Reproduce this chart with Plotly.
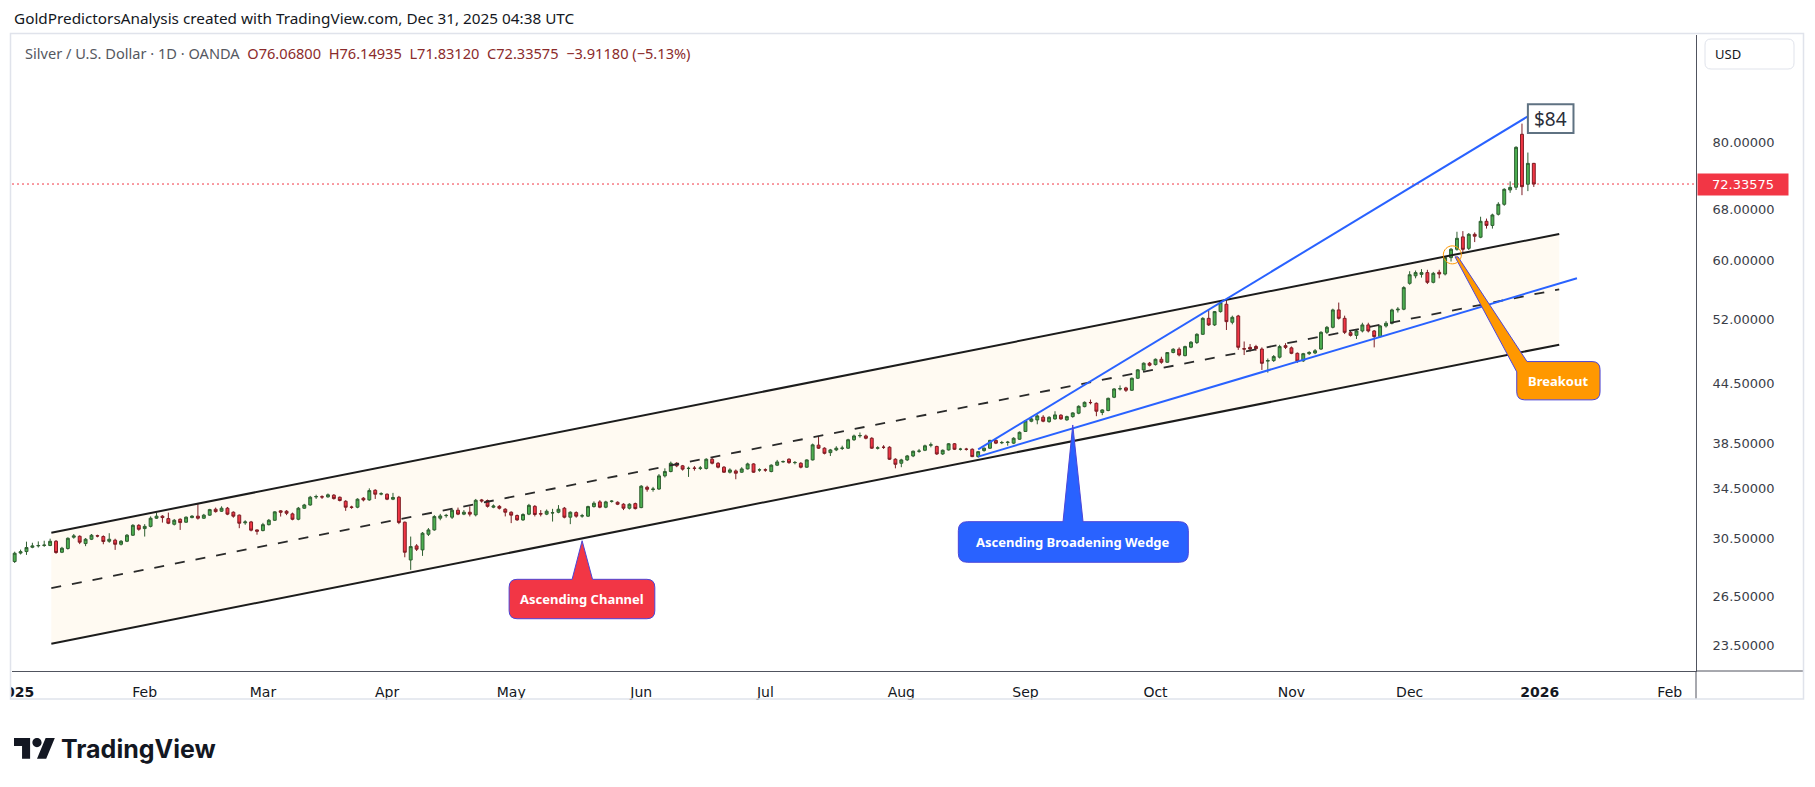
import math
import pandas as pd
import plotly.graph_objects as go

# ---------------- data ----------------
FIRST_DAY = "2025-01-02"
LAST_DAY = "2025-12-31"
HOLIDAYS = ["2025-04-18", "2025-12-25"]

OPEN = [
    28.85, 29.45, 29.56, 29.87, 29.97, 30.00, 30.00, 30.31, 29.51, 29.78,
    30.61, 30.68, 30.14, 30.46, 30.72, 30.66, 30.31, 30.39, 30.09, 30.31,
    30.76, 31.51, 31.26, 31.43, 32.06, 32.22, 32.03, 31.59, 31.98, 31.75,
    32.11, 32.22, 32.06, 32.30, 32.77, 32.61, 32.85, 32.53, 32.30, 31.70,
    31.77, 31.16, 31.11, 31.56, 31.90, 32.64, 32.61, 32.40, 31.98, 32.85,
    33.11, 33.76, 33.78, 33.77, 33.91, 33.74, 33.41, 32.95, 32.93, 33.66,
    33.52, 34.32, 34.00, 33.99, 33.58, 33.74, 31.75, 28.96, 29.97, 29.68,
    30.83, 31.16, 32.06, 32.26, 32.14, 32.69, 32.38, 32.53, 32.32, 33.52,
    33.47, 32.93, 33.00, 32.77, 32.53, 32.27, 31.93, 32.38, 33.00, 32.42,
    32.38, 32.47, 32.53, 32.85, 32.14, 32.50, 32.23, 32.22, 32.98, 33.36,
    32.93, 33.40, 33.33, 33.17, 32.85, 33.22, 32.90, 34.57, 34.38, 34.42,
    35.54, 35.92, 36.65, 36.42, 36.18, 36.22, 36.20, 36.19, 37.01, 36.65,
    36.30, 35.86, 35.97, 35.86, 36.15, 36.59, 36.05, 36.07, 35.92, 36.48,
    36.78, 37.01, 36.70, 36.65, 36.30, 36.95, 38.30, 38.02, 37.61, 37.86,
    38.00, 38.02, 38.81, 39.18, 39.17, 38.95, 38.02, 38.11, 38.11, 37.01,
    36.65, 36.95, 37.31, 37.74, 37.83, 38.30, 38.18, 37.49, 37.86, 38.43,
    37.92, 37.93, 37.92, 37.25, 37.80, 38.02, 38.75, 38.52, 38.55, 38.49,
    38.86, 39.60, 40.60, 40.73, 41.00, 40.56, 40.83, 41.20, 40.73, 41.06,
    41.40, 42.07, 42.50, 42.41, 41.47, 41.67, 43.04, 43.92, 44.03, 43.78,
    45.08, 46.00, 46.76, 46.60, 47.21, 46.87, 48.00, 48.38, 47.63, 48.62,
    49.17, 50.17, 52.16, 51.33, 53.02, 53.98, 51.66, 52.46, 48.45, 48.60,
    48.70, 48.40, 47.00, 47.06, 47.45, 48.80, 48.54, 47.90, 47.03, 47.86,
    47.94, 48.40, 50.41, 51.03, 53.24, 52.16, 50.37, 50.04, 50.58, 51.33,
    50.58, 49.89, 51.20, 51.54, 53.24, 53.33, 56.80, 57.85, 58.05, 58.30,
    56.94, 58.35, 58.10, 60.47, 61.71, 63.60, 61.85, 64.00, 63.55, 66.06,
    65.40, 67.20, 68.85, 71.30, 71.77, 81.65, 72.30, 76.068,
]
HIGH = [
    29.55, 29.70, 30.28, 30.20, 30.30, 30.35, 30.50, 30.40, 29.90, 30.60,
    30.85, 30.75, 30.55, 30.85, 30.80, 30.75, 30.91, 30.50, 30.40, 30.85,
    31.60, 31.60, 31.60, 32.20, 32.50, 32.30, 32.50, 32.00, 32.05, 32.20,
    32.30, 33.25, 32.40, 32.80, 32.90, 33.00, 32.95, 32.60, 32.35, 31.90,
    31.85, 31.20, 31.70, 32.00, 32.60, 32.70, 32.70, 32.50, 32.95, 33.20,
    33.85, 33.95, 33.90, 34.05, 34.00, 33.80, 33.50, 33.05, 33.65, 33.75,
    34.48, 34.40, 34.15, 34.05, 34.10, 33.85, 31.80, 30.66, 30.10, 31.00,
    31.30, 32.30, 32.40, 32.40, 32.80, 32.90, 32.70, 33.00, 33.60, 33.60,
    33.55, 33.15, 33.10, 32.85, 32.60, 32.35, 32.45, 33.20, 33.10, 32.70,
    32.75, 32.80, 33.10, 32.95, 32.60, 32.60, 32.40, 33.05, 33.40, 33.50,
    33.45, 33.50, 33.40, 33.25, 33.25, 33.30, 34.75, 34.70, 34.60, 35.70,
    36.20, 36.80, 36.75, 36.50, 36.35, 36.40, 36.40, 37.10, 37.20, 36.75,
    36.40, 36.20, 36.10, 36.30, 36.70, 36.65, 36.20, 36.20, 36.55, 36.95,
    36.90, 37.10, 36.85, 36.75, 37.00, 38.45, 39.10, 38.10, 37.95, 38.20,
    38.25, 38.90, 39.30, 39.50, 39.30, 39.05, 38.20, 38.30, 38.20, 37.10,
    37.05, 37.40, 37.80, 37.95, 38.35, 38.55, 38.25, 37.90, 38.50, 38.50,
    38.05, 38.05, 38.00, 37.75, 38.10, 38.80, 38.85, 38.70, 38.70, 39.05,
    39.60, 40.70, 40.95, 41.30, 41.20, 41.10, 41.60, 41.30, 41.15, 41.50,
    42.20, 42.60, 42.80, 42.50, 41.80, 43.00, 44.00, 44.30, 44.15, 45.15,
    46.10, 46.85, 46.90, 47.30, 47.50, 48.05, 48.50, 48.60, 48.80, 49.35,
    50.30, 52.30, 53.30, 53.10, 54.30, 54.50, 52.50, 52.60, 49.30, 49.00,
    48.90, 48.60, 47.30, 47.70, 48.90, 49.10, 48.70, 48.00, 47.95, 48.15,
    48.40, 50.55, 51.20, 53.40, 54.20, 52.50, 50.60, 50.80, 51.60, 51.60,
    50.70, 51.30, 51.80, 53.40, 53.60, 56.40, 58.50, 58.60, 58.80, 58.70,
    58.40, 58.70, 60.60, 61.90, 64.40, 64.50, 64.20, 64.30, 66.80, 66.50,
    67.30, 69.20, 71.60, 72.80, 79.30, 83.80, 78.10, 76.14935,
]
LOW = [
    28.75, 29.35, 29.32, 29.80, 29.85, 29.90, 29.95, 29.40, 29.45, 29.70,
    30.50, 30.10, 29.95, 30.40, 30.60, 30.09, 30.20, 29.68, 30.00, 30.25,
    30.70, 31.10, 30.66, 31.35, 32.00, 31.72, 31.60, 31.50, 31.16, 31.70,
    32.05, 31.95, 32.00, 32.25, 32.50, 32.55, 32.30, 32.10, 31.29, 31.55,
    31.05, 30.80, 31.05, 31.50, 31.85, 32.19, 32.30, 31.90, 31.90, 32.80,
    33.05, 33.60, 33.60, 33.70, 33.55, 33.40, 32.64, 32.80, 32.85, 33.40,
    33.45, 33.60, 33.90, 33.50, 33.50, 31.60, 29.15, 28.27, 29.60, 29.25,
    30.70, 31.10, 31.90, 32.10, 32.00, 32.30, 32.30, 32.20, 32.20, 33.30,
    32.90, 32.85, 32.75, 32.20, 31.68, 31.85, 31.85, 32.30, 32.20, 32.20,
    32.30, 31.80, 32.45, 32.05, 31.60, 32.10, 32.10, 32.15, 32.90, 32.85,
    32.85, 33.30, 33.10, 32.70, 32.75, 32.75, 32.85, 34.20, 34.20, 34.35,
    35.40, 35.85, 36.30, 36.00, 35.45, 36.00, 36.05, 36.10, 36.55, 36.20,
    35.80, 35.75, 35.25, 35.80, 36.10, 35.80, 35.90, 35.90, 35.85, 36.40,
    36.70, 36.60, 36.55, 36.20, 36.25, 36.90, 37.95, 37.45, 37.30, 37.75,
    37.85, 37.95, 38.70, 39.00, 38.85, 37.95, 37.90, 37.95, 36.95, 36.20,
    36.30, 36.85, 37.20, 37.60, 37.75, 38.10, 37.40, 37.40, 37.80, 37.85,
    37.80, 37.80, 37.20, 37.15, 37.70, 37.95, 38.40, 38.40, 38.25, 38.40,
    38.80, 39.55, 40.50, 40.30, 40.50, 40.45, 40.75, 40.75, 40.65, 40.95,
    41.30, 42.00, 42.30, 41.10, 41.20, 41.60, 42.95, 43.75, 43.60, 43.70,
    45.00, 45.90, 46.40, 46.50, 46.70, 46.80, 47.90, 47.55, 47.55, 48.50,
    49.00, 50.10, 51.20, 51.20, 52.90, 50.70, 51.40, 48.30, 47.70, 48.10,
    48.20, 46.00, 45.70, 46.90, 47.30, 48.40, 47.80, 46.80, 46.90, 47.70,
    47.80, 48.30, 50.20, 50.90, 52.00, 50.20, 49.90, 49.60, 50.40, 50.40,
    48.60, 49.80, 51.00, 51.40, 52.90, 53.20, 56.60, 57.50, 57.60, 56.70,
    56.80, 57.50, 57.90, 59.90, 61.50, 61.30, 61.60, 62.80, 63.40, 64.90,
    64.90, 67.00, 68.60, 70.80, 71.30, 70.40, 71.10, 71.83120,
]
CLOSE = [
    29.44, 29.55, 29.85, 29.97, 30.00, 30.03, 30.31, 29.49, 29.80, 30.53,
    30.71, 30.24, 30.46, 30.76, 30.70, 30.29, 30.46, 30.09, 30.31, 30.76,
    31.51, 31.21, 31.43, 32.06, 32.22, 32.11, 31.67, 31.90, 31.72, 32.14,
    32.22, 32.06, 32.30, 32.74, 32.58, 32.85, 32.38, 32.22, 31.67, 31.77,
    31.14, 31.06, 31.56, 31.90, 32.56, 32.53, 32.45, 31.98, 32.85, 33.11,
    33.74, 33.80, 33.76, 33.94, 33.63, 33.47, 32.93, 32.92, 33.58, 33.52,
    34.29, 33.99, 34.03, 33.58, 33.72, 31.73, 29.51, 29.92, 29.73, 30.91,
    31.16, 32.19, 32.24, 32.28, 32.69, 32.38, 32.53, 32.38, 33.49, 33.44,
    33.00, 33.03, 32.85, 32.53, 32.30, 31.93, 32.35, 33.08, 32.35, 32.39,
    32.61, 32.49, 32.77, 32.14, 32.53, 32.22, 32.25, 32.98, 33.25, 32.93,
    33.36, 33.42, 33.17, 32.85, 33.17, 32.82, 34.66, 34.40, 34.42, 35.54,
    35.92, 36.65, 36.42, 36.13, 36.20, 36.20, 36.23, 37.01, 36.65, 36.30,
    35.86, 36.06, 35.77, 36.15, 36.59, 35.86, 36.07, 36.05, 36.48, 36.77,
    36.80, 36.71, 36.72, 36.30, 36.95, 38.33, 38.02, 37.55, 37.86, 38.02,
    38.03, 38.81, 39.17, 39.21, 38.95, 38.02, 38.05, 38.10, 37.01, 36.56,
    36.95, 37.31, 37.74, 37.75, 38.24, 38.33, 37.49, 37.83, 38.43, 37.92,
    37.93, 37.92, 37.25, 37.70, 38.02, 38.75, 38.49, 38.55, 38.58, 38.95,
    39.52, 40.63, 40.83, 41.13, 40.60, 40.99, 41.23, 40.83, 41.06, 41.43,
    42.10, 42.51, 42.48, 41.60, 41.73, 42.93, 43.92, 43.95, 43.78, 45.08,
    46.01, 46.76, 46.53, 47.21, 46.87, 47.99, 48.38, 47.71, 48.69, 49.21,
    50.17, 52.16, 51.33, 53.02, 54.19, 51.74, 52.29, 48.61, 48.40, 48.40,
    48.45, 46.75, 47.06, 47.52, 48.69, 48.60, 47.90, 47.00, 47.86, 48.00,
    48.20, 50.41, 51.03, 53.24, 52.16, 50.41, 50.04, 50.58, 51.33, 50.58,
    49.89, 51.20, 51.54, 53.24, 53.33, 56.21, 58.00, 58.30, 58.30, 56.94,
    58.20, 58.10, 60.47, 61.71, 63.38, 61.70, 64.00, 63.70, 66.06, 65.40,
    67.09, 68.85, 71.41, 71.75, 79.10, 71.87, 76.068, 72.33575,
]
LAST_PRICE = 72.33575

# analyst drawings: (time, price) anchors
CHANNEL_TIME = ["2025-01-10 16:48", "2026-01-06 19:12"]
CHANNEL_UPPER = [30.95, 64.06]
CHANNEL_LOWER = [23.62, 48.92]
WEDGE_UPPER_TIME = ["2025-08-20 12:00", "2025-12-30 12:00"]
WEDGE_UPPER = [37.92, 85.3]
WEDGE_LOWER_TIME = ["2025-08-20 12:00", "2026-01-09 19:12"]
WEDGE_LOWER = [37.25, 57.5]
CALLOUT_CHANNEL = ("2025-05-19 12:00", 30.35, "Ascending Channel")
CALLOUT_WEDGE = ("2025-09-11 12:00", 40.23, "Ascending Broadening Wedge")
CALLOUT_BREAKOUT = ("2025-12-10 12:00", 60.58, "Breakout")
TARGET_LABEL = "$84"

Y_TICKS = [23.5, 26.5, 30.5, 34.5, 38.5, 44.5, 52, 60, 68, 80]
MONTH_TICK_DATES = ["2025-01-02", "2025-02-03", "2025-03-03", "2025-04-01", "2025-05-01",
                    "2025-06-02", "2025-07-01", "2025-08-01", "2025-09-01", "2025-10-01",
                    "2025-11-03", "2025-12-01", "2026-01-01", "2026-02-02"]
MONTH_TICK_TEXT = ["<b>2025</b>", "Feb", "Mar", "Apr", "May", "Jun", "Jul", "Aug", "Sep", "Oct",
                   "Nov", "Dec", "<b>2026</b>", "Feb"]

# ---------------- build ----------------
days = pd.bdate_range(FIRST_DAY, LAST_DAY)
days = days[~days.isin(pd.to_datetime(HOLIDAYS))]
assert len(days) == len(OPEN) == len(HIGH) == len(LOW) == len(CLOSE)
xdates = days + pd.Timedelta(hours=12)

W, H = 1815, 787
PL, PR, PT, PB = 12, 1696, 35, 671


def px(x):
    return (x - PL) / (PR - PL)


def py(y):
    return (PB - y) / (PB - PT)


L10 = math.log10
UP_FILL, UP_LINE = "#4caf50", "#2f5f31"
DN_FILL, DN_LINE = "#f23645", "#7d1d24"
BLUE = "#2962ff"
BLACK = "#1c1c1c"

fig = go.Figure()

fig.add_trace(go.Candlestick(
    x=xdates, open=OPEN, high=HIGH, low=LOW, close=CLOSE,
    increasing=dict(line=dict(color=UP_LINE, width=1), fillcolor=UP_FILL),
    decreasing=dict(line=dict(color=DN_LINE, width=1), fillcolor=DN_FILL),
    whiskerwidth=0, hoverinfo="skip", showlegend=False))

mid = [math.sqrt(a * b) for a, b in zip(CHANNEL_UPPER, CHANNEL_LOWER)]
fig.add_trace(go.Scatter(x=CHANNEL_TIME, y=mid, mode="lines",
                         line=dict(color="#2a2a2a", width=1.8, dash="10px,11px"),
                         hoverinfo="skip", showlegend=False))
for ys in (CHANNEL_UPPER, CHANNEL_LOWER):
    fig.add_trace(go.Scatter(x=CHANNEL_TIME, y=ys, mode="lines",
                             line=dict(color=BLACK, width=2), hoverinfo="skip", showlegend=False))
fig.add_trace(go.Scatter(x=WEDGE_UPPER_TIME, y=WEDGE_UPPER, mode="lines",
                         line=dict(color=BLUE, width=2), hoverinfo="skip", showlegend=False))
fig.add_trace(go.Scatter(x=WEDGE_LOWER_TIME, y=WEDGE_LOWER, mode="lines",
                         line=dict(color=BLUE, width=2), hoverinfo="skip", showlegend=False))

shapes = []
annotations = []


def dpt(t, p):
    return "%s,%s" % (t.replace(" ", "_"), p)


# channel background (below candles)
shapes.append(dict(type="path", xref="x", yref="y", layer="below",
                   path="M %s L %s L %s L %s Z" % (dpt(CHANNEL_TIME[0], CHANNEL_UPPER[0]),
                                                   dpt(CHANNEL_TIME[1], CHANNEL_UPPER[1]),
                                                   dpt(CHANNEL_TIME[1], CHANNEL_LOWER[1]),
                                                   dpt(CHANNEL_TIME[0], CHANNEL_LOWER[0])),
                   fillcolor="#fffaf2", line=dict(width=0)))

# last price line
shapes.append(dict(type="line", xref="paper", x0=0, x1=1, yref="y",
                   y0=LAST_PRICE, y1=LAST_PRICE,
                   line=dict(color="#f23645", width=1, dash="2px,3px"), layer="below"))


def pix_shape(t, p, path, fill, line):
    shapes.append(dict(type="path", xref="x", yref="y", xsizemode="pixel", ysizemode="pixel",
                       xanchor=t, yanchor=p, path=path, fillcolor=fill, line=line, layer="above"))


def callout(anchor, path, fill, tdx, tdy):
    t, p, label = anchor
    pix_shape(t, p, path, fill, dict(color="#4b45d8", width=1))
    annotations.append(dict(x=t, y=L10(p), xref="x", yref="y", xshift=tdx, yshift=tdy,
                            text="<b>%s</b>" % label, showarrow=False,
                            font=dict(family="Noto Sans", size=13, color="white")))


callout(CALLOUT_CHANNEL,
        "M 0,0 L 10.4,-38.6 L 64.7,-38.6 Q 72.7,-38.6 72.7,-46.6 L 72.7,-70 Q 72.7,-78 64.7,-78 "
        "L -65,-78 Q -73,-78 -73,-70 L -73,-46.6 Q -73,-38.6 -65,-38.6 L -10,-38.6 Z",
        "#f23645", 0, -58.3)
callout(CALLOUT_WEDGE,
        "M 0,0 L 10.3,-96.7 L 106.6,-96.7 Q 115.6,-96.7 115.6,-105.7 L 115.6,-128.3 "
        "Q 115.6,-137.3 106.6,-137.3 L -105.4,-137.3 Q -114.4,-137.3 -114.4,-128.3 "
        "L -114.4,-105.7 Q -114.4,-96.7 -105.4,-96.7 L -9.7,-96.7 Z",
        BLUE, 0.6, -117)
callout(CALLOUT_BREAKOUT,
        "M 76,-104.7 L 7,0 L 4,0 L 65.7,-115 L 65.7,-135 Q 65.7,-143 73.7,-143 L 141,-143 "
        "Q 149,-143 149,-135 L 149,-112.7 Q 149,-104.7 141,-104.7 Z",
        "#ff9800", 107.4, -123.9)


def circle_path(cx, cy, r):
    k = 0.5523 * r
    return ("M %.2f,%.2f C %.2f,%.2f %.2f,%.2f %.2f,%.2f C %.2f,%.2f %.2f,%.2f %.2f,%.2f "
            "C %.2f,%.2f %.2f,%.2f %.2f,%.2f C %.2f,%.2f %.2f,%.2f %.2f,%.2f Z" % (
                cx + r, cy,
                cx + r, cy + k, cx + k, cy + r, cx, cy + r,
                cx - k, cy + r, cx - r, cy + k, cx - r, cy,
                cx - r, cy - k, cx - k, cy - r, cx, cy - r,
                cx + k, cy - r, cx + r, cy - k, cx + r, cy))


# circle on breakout candle
pix_shape(CALLOUT_BREAKOUT[0], CALLOUT_BREAKOUT[1], circle_path(1.3, 2, 9), "rgba(0,0,0,0)",
          dict(color="#ff9800", width=1))

# $84 target box at end of upper wedge line
pix_shape(WEDGE_UPPER_TIME[1], WEDGE_UPPER[1], "M 0,-16.7 L 45.6,-16.7 L 45.6,12 L 0,12 Z",
          "white", dict(color="#5f7282", width=2))
annotations.append(dict(x=WEDGE_UPPER_TIME[1], y=L10(WEDGE_UPPER[1]), xref="x", yref="y",
                        xshift=22.8, yshift=-2.3, text=TARGET_LABEL, showarrow=False,
                        font=dict(family="Noto Sans", size=19, color="#2a2e39")))

# price label on axis
annotations.append(dict(x=1, xref="paper", xanchor="left", xshift=1, y=L10(LAST_PRICE), yref="y",
                        text="%.5f" % LAST_PRICE, showarrow=False, bgcolor="#f23645",
                        width=84, height=15, borderpad=3,
                        font=dict(family="DejaVu Sans", size=13, color="white")))

# cover overflow of first time label + frame + separators
shapes.append(dict(type="rect", xref="paper", yref="paper", x0=px(-20), x1=px(11),
                   y0=py(700), y1=py(672), fillcolor="white", line=dict(width=0), layer="above"))
shapes.append(dict(type="line", xref="paper", yref="paper", x0=px(PR), x1=px(1803),
                   y0=py(PB), y1=py(PB), line=dict(color="#50535e", width=1)))
shapes.append(dict(type="line", xref="paper", yref="paper", x0=px(PR), x1=px(PR),
                   y0=py(PB), y1=py(699), line=dict(color="#50535e", width=1)))
shapes.append(dict(type="rect", xref="paper", yref="paper", x0=px(10.5), x1=px(1803.5),
                   y0=py(699), y1=py(33.5), line=dict(color="#e0e3eb", width=1.5)))

# USD box
shapes.append(dict(type="path", xref="paper", yref="paper", xsizemode="pixel", ysizemode="pixel",
                   xanchor=px(1705), yanchor=py(39),
                   path="M 6,0 L 83,0 Q 89,0 89,-6 L 89,-24 Q 89,-30 83,-30 L 6,-30 Q 0,-30 0,-24 "
                        "L 0,-6 Q 0,0 6,0 Z",
                   fillcolor="white", line=dict(color="#e0e3eb", width=1)))
annotations.append(dict(x=px(1713), y=py(54), xref="paper", yref="paper", xanchor="left",
                        yanchor="middle", text="USD", showarrow=False,
                        font=dict(family="Noto Sans", size=13, color="#131722")))

# header texts
annotations.append(dict(x=px(12), y=py(18), xref="paper", yref="paper", xanchor="left",
                        yanchor="middle", showarrow=False,
                        text="GoldPredictorsAnalysis created with TradingView.com, Dec 31, 2025 04:38 UTC",
                        font=dict(family="Noto Sans", size=15.3, color="#131722")))
RED_TXT = "#8b2b2b"
sp = "\u00a0\u00a0"
legend = ("<span style='color:#55585f'>Silver / U.S. Dollar · 1D · OANDA</span>" + sp +
          "<span style='color:%s'>O76.06800</span>" % RED_TXT + sp +
          "<span style='color:%s'>H76.14935</span>" % RED_TXT + sp +
          "<span style='color:%s'>L71.83120</span>" % RED_TXT + sp +
          "<span style='color:%s'>C72.33575</span>" % RED_TXT + sp +
          "<span style='color:%s'>\u22123.91180 (\u22125.13%%)</span>" % RED_TXT)
annotations.append(dict(x=px(23), y=py(53), xref="paper", yref="paper", xanchor="left",
                        yanchor="middle", showarrow=False, text=legend,
                        font=dict(family="Noto Sans", size=14.6, color="#55585f")))

# TradingView logo
s = 1.15


def lp(x, y):
    return "%.2f,%.2f" % (x * s, -(y - 4) * s)


logo_path = ("M " + lp(14, 22) + " L " + lp(7, 22) + " L " + lp(7, 11) + " L " + lp(0, 11) +
             " L " + lp(0, 4) + " L " + lp(14, 4) + " Z M " + lp(28, 22) + " L " + lp(20, 22) +
             " L " + lp(27.5, 4) + " L " + lp(35.5, 4) + " Z " + circle_path(20 * s, -4 * s, 4 * s))
shapes.append(dict(type="path", xref="paper", yref="paper", xsizemode="pixel", ysizemode="pixel",
                   xanchor=px(14), yanchor=py(738), path=logo_path, fillcolor="#131722",
                   line=dict(width=0)))
annotations.append(dict(x=px(59), y=py(749), xref="paper", yref="paper", xanchor="left",
                        yanchor="middle", showarrow=False, text="<b>TradingView</b>",
                        font=dict(family="Inter", size=25, color="#131722")))

fig.update_layout(
    width=W, height=H, autosize=False,
    margin=dict(l=PL, r=W - PR, t=PT, b=H - PB, pad=0, autoexpand=False),
    paper_bgcolor="white", plot_bgcolor="white", showlegend=False,
    shapes=shapes, annotations=annotations, dragmode=False,
    xaxis=dict(
        type="date", automargin=False,
        range=["2025-01-02 01:12", "2026-02-06 22:34"],
        rangebreaks=[dict(bounds=["sat", "mon"]), dict(values=HOLIDAYS)],
        rangeslider=dict(visible=False),
        tickmode="array",
        tickvals=[d + " 12:00" for d in MONTH_TICK_DATES],
        ticktext=MONTH_TICK_TEXT,
        showgrid=False, zeroline=False, ticks="", showline=True, linecolor="#50535e", linewidth=1,
        tickfont=dict(family="DejaVu Sans", size=14, color="#131722"),
        ticklabelstandoff=8, ticklabeloverflow="allow", fixedrange=True,
    ),
    yaxis=dict(
        type="log", side="right", automargin=False,
        range=[L10(22.10), L10(103.98)],
        tickmode="array", tickvals=Y_TICKS, ticktext=["%.5f" % v for v in Y_TICKS],
        showgrid=False, zeroline=False, ticks="", showline=True, linecolor="#50535e", linewidth=1,
        tickfont=dict(family="DejaVu Sans", size=13, color="#3b3e48"),
        ticklabelstandoff=13, fixedrange=True,
    ),
)

fig.write_html("out.html")
